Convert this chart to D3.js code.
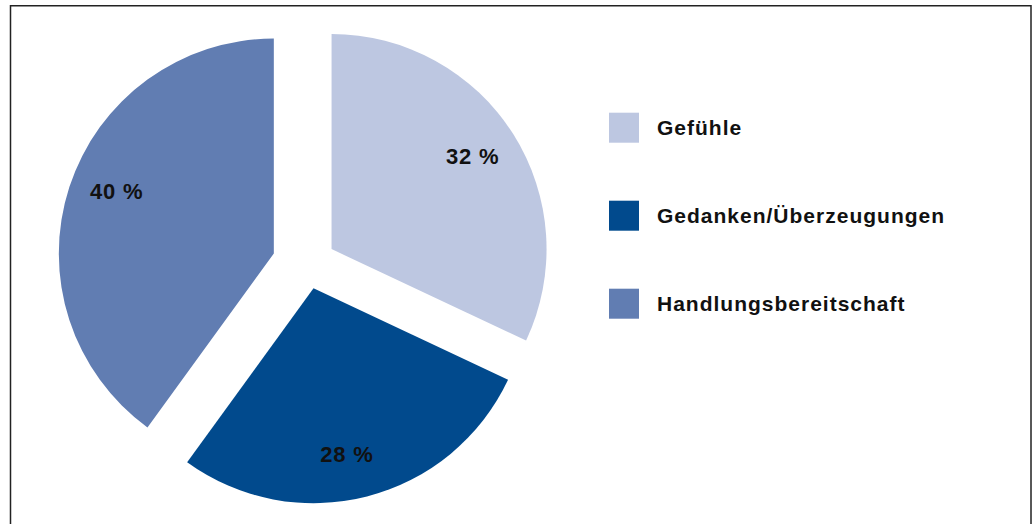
<!DOCTYPE html>
<html>
<head>
<meta charset="utf-8">
<script src="https://cdn.jsdelivr.net/npm/d3@7"></script>
<style>
    body { margin: 0; background: #fff; }
    svg { display: block; }
    text { font-family: "Liberation Sans", Arial, Helvetica, sans-serif; font-weight: bold; fill: #111; }
</style>
</head>
<body>
<svg id="mainSvg" width="1032" height="524"></svg>
<script>
// Daten
const categories = ["Gefühle", "Gedanken/Überzeugungen", "Handlungsbereitschaft"];
const shares = [32, 28, 40];
const sliceLabels = ["32 %", "28 %", "40 %"];

// Aussehen
const colors = ["#bdc7e1", "#014a8d", "#617db2"];
const explode = [28.6, 24.6, 35.3]; // Abstand jedes Segments vom Mittelpunkt
const labelTurn = [-1, 3, 3.5];     // kleine Drehung der Beschriftung (Grad)

let svg = d3.select("#mainSvg");
let width = +svg.attr("width"), height = +svg.attr("height");
const cx = 307.4, cy = 264.4, radius = 215, labelR = 169;

// Rahmen (unten offen, läuft aus dem Bild)
svg.append("rect")
    .attr("x", 10.5)
    .attr("y", 5.75)
    .attr("width", 1020.5)
    .attr("height", 600)
    .attr("fill", "none")
    .attr("stroke", "#222")
    .attr("stroke-width", 1.5);

const pie = d3.pie().sort(null).value(d => d)(shares);
const arc = d3.arc().innerRadius(0).outerRadius(radius);

const midAngle = d => (d.startAngle + d.endAngle) / 2;

const offset = function (d, i) {
    const mid = midAngle(d);
    return [Math.sin(mid) * explode[i], -Math.cos(mid) * explode[i]];
};

const labelPos = function (d, i) {
    const a = midAngle(d) + labelTurn[i] * Math.PI / 180;
    return [Math.sin(a) * labelR, -Math.cos(a) * labelR];
};

const slices = svg.append("g")
    .attr("transform", `translate(${cx},${cy})`)
    .selectAll("g").data(pie).join("g")
    .attr("transform", (d, i) => `translate(${offset(d, i)})`);

slices.append("path")
    .attr("d", arc)
    .attr("fill", (d, i) => colors[i]);

slices.append("text")
    .text((d, i) => sliceLabels[i])
    .attr("transform", (d, i) => `translate(${labelPos(d, i)})`)
    .attr("text-anchor", "middle")
    .attr("dy", "0.36em")
    .attr("font-size", "22px")
    .attr("letter-spacing", "0.8px");

// Legende
const legend = svg.append("g").selectAll("g").data(categories).join("g")
    .attr("transform", (d, i) => `translate(609,${112.7 + i * 88})`);

legend.append("rect")
    .attr("width", 30)
    .attr("height", 30)
    .attr("fill", (d, i) => colors[i]);

legend.append("text")
    .text(d => d)
    .attr("x", 48)
    .attr("y", 22.6)
    .attr("font-size", "21px")
    .attr("letter-spacing", "1px");
</script>
</body>
</html>
